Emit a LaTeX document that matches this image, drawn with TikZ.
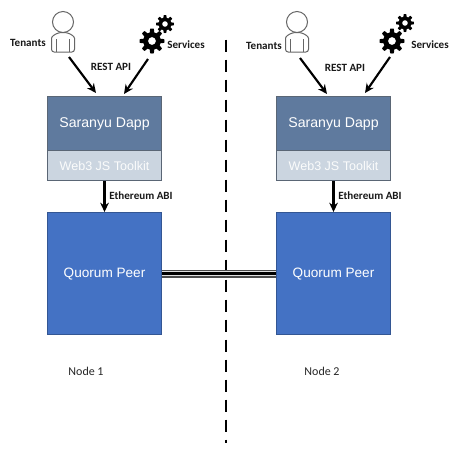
\documentclass[tikz,border=0pt]{standalone}
\usepackage{fontspec}
\setmainfont{Liberation Sans}
\newfontfamily\labelfont{Carlito}
\usetikzlibrary{arrows.meta}
\definecolor{dappblue}{HTML}{5F7A9E}
\definecolor{webgrey}{HTML}{CBD5E0}
\definecolor{peerblue}{HTML}{4472C4}
\definecolor{edgegrey}{HTML}{5A6675}
\tikzset{
  px/.style={x=0.75pt,y=-0.75pt},
  boxbase/.style={draw=edgegrey,line width=0.8pt,minimum width=85.5pt,inner sep=0pt,text=white,anchor=north west},
  dappbox/.style={boxbase,fill=dappblue,minimum height=40.5pt,font=\fontsize{10.6}{12}\selectfont},
  webbox/.style={boxbase,fill=webgrey,minimum height=22.5pt,font=\fontsize{9.4}{11}\selectfont,text=white!92!webgrey},
  peerbox/.style={boxbase,fill=peerblue,draw=peerblue!75!black,minimum height=91.5pt,font=\fontsize{10.2}{12}\selectfont},
  tag/.style={font=\labelfont\bfseries\fontsize{8.3}{10}\selectfont,inner sep=0pt,text=black!90},
  nodetag/.style={font=\labelfont\fontsize{9}{11}\selectfont,inner sep=0pt,text=black!85},
  flow/.style={-{Stealth[length=7pt,width=6.5pt]},line width=1.6pt,black},
  iconline/.style={draw=black!60,line width=0.75pt},
}
\newcommand{\gearshape}[3]{% cx, cy, radius (px)
  \fill[black,even odd rule]
    plot[samples=145,domain=0:360,variable=\a]
      ({#1+#3*(0.85+0.15*max(-1,min(1,2.5*cos(8*\a))))*cos(\a)},{#2+#3*(0.85+0.15*max(-1,min(1,2.5*cos(8*\a))))*sin(\a)})
    (#1,#2) circle[radius={#3*0.32}];}
\newcommand{\personshape}[2]{% head cx, head cy
  \draw[iconline] (#1,#2) circle[radius=10.5];
  \draw[iconline,rounded corners=2pt] (#1-11.5,#2+30) -- (#1-11.5,#2+19) .. controls (#1-11.5,#2+14) and (#1-7,#2+12) .. (#1-4,#2+10.5) -- (#1+4,#2+10.5) .. controls (#1+7,#2+12) and (#1+11.5,#2+14) .. (#1+11.5,#2+19) -- (#1+11.5,#2+30) -- cycle;
  \draw[iconline] (#1-6.5,#2+17) -- (#1-6.5,#2+30) (#1+6.5,#2+17) -- (#1+6.5,#2+30);}
\begin{document}
\begin{tikzpicture}[px]
\useasboundingbox (0,0) rectangle (465,455);
\fill[white] (0,0) rectangle (465,455);
% divider
\coordinate (divtop) at (226,39.5);
\coordinate (divbot) at (226,443);
\draw[black,line width=1.5pt,dash pattern=on 9pt off 6pt] (divtop) -- (divbot);
% boxes left
\node[dappbox] (dappL) at (47,96) {Saranyu Dapp};
\node[webbox] (webL) at (47,150) {Web3 JS Toolkit};
\node[peerbox] (peerL) at (47,212) {Quorum Peer};
% boxes right
\node[dappbox] (dappR) at (276,96) {Saranyu Dapp};
\node[webbox] (webR) at (276,150) {Web3 JS Toolkit};
\node[peerbox] (peerR) at (276,212) {Quorum Peer};
% peer link
\draw[black!70,line width=6pt] (peerL.east) -- (peerR.west);
\draw[white!88!black,line width=4.4pt] (peerL.east) -- (peerR.west);
\draw[black,line width=1.7pt] (peerL.east) -- (peerR.west);
% icons
\personshape{63}{22}
\personshape{297}{22}
\gearshape{152}{41}{12.5}
\gearshape{165}{24}{9}
\gearshape{392}{41}{12.5}
\gearshape{405}{23}{9}
% connector ends
\coordinate (tenL) at (69,57);
\coordinate (srvL) at (148,59);
\coordinate (tenR) at (300,58);
\coordinate (srvR) at (390,57);
\coordinate (dappLa) at (96,93);
\coordinate (dappLb) at (124,94);
\coordinate (dappRa) at (327,94);
\coordinate (dappRb) at (365,93);
\draw[flow] (tenL) -- (dappLa);
\draw[flow] (srvL) -- (dappLb);
\draw[flow] (tenR) -- (dappRa);
\draw[flow] (srvR) -- (dappRb);
\draw[flow] (webL.south) -- (peerL.north);
\draw[flow] (webR.south) -- (peerR.north);
% labels
\node[tag] (t1) at (28,43) {Tenants};
\node[tag] (s1) at (186,45) {Services};
\node[tag] (r1) at (111,67) {REST API};
\node[tag] (e1) at (141,196) {Ethereum ABI};
\node[tag] (t2) at (264,46) {Tenants};
\node[tag] (s2) at (430,45) {Services};
\node[tag] (r2) at (345,68) {REST API};
\node[tag] (e2) at (370,196) {Ethereum ABI};
\node[nodetag] (n1) at (86,371) {Node 1};
\node[nodetag] (n2) at (322,371) {Node 2};
\end{tikzpicture}
\end{document}
